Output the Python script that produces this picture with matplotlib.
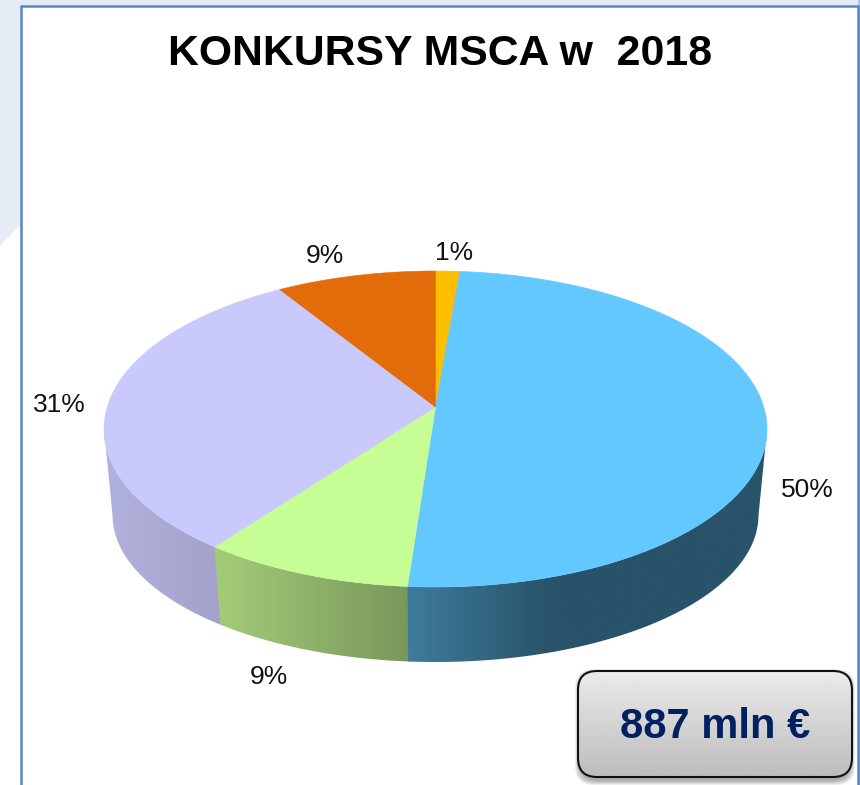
"""
Perspective 3D pie of the 2018 MSCA calls, drawn by hand on a pixel-sized axes
because matplotlib's own pie has no depth.
"""

import matplotlib

matplotlib.use("Agg")
import matplotlib.pyplot as plt  # noqa: E402
import numpy as np  # noqa: E402
from matplotlib.colors import to_rgb  # noqa: E402
from matplotlib.patches import FancyBboxPatch, Polygon, Rectangle  # noqa: E402

TITLE = "KONKURSY MSCA w  2018"
TOTAL_LABEL = "887 mln €"
# clockwise from 12 o'clock
shares = [1.35, 49.82, 9.03, 30.9, 8.9]
share_labels = ["1%", "50%", "9%", "31%", "9%"]
top_colors = ["#fdbf00", "#62c8fe", "#c6fd95", "#c9c9fb", "#e26b0a"]

plt.rcParams["font.family"] = ["Liberation Sans", "DejaVu Sans"]

W, H = 860, 785

# top face ellipse, bottom rim ellipse and how far the hub sits above centre
TOP = (435.5, 429.0, 331.5, 158.0)
BOTTOM = (435.5, 515.0, 323.0, 147.0)
HUB = 22.0 / 158.0

# side shading: x position -> colour, only the slices that show a wall
side_shading = {
    1: ([405, 550, 767], ["#3f7c9c", "#28536a", "#28536a"]),
    2: ([212, 414], ["#a4cd79", "#78965a"]),
    3: ([104, 224], ["#b2b2de", "#a1a1c9"]),
}
label_xy = [(454, 253), (807, 490), (269, 677), (59, 405), (325, 256)]


def disk_coords(theta):
    """Circle angle (clockwise from top) to unit-disk coords seen in perspective."""
    x, y = np.sin(theta), np.cos(theta)
    den = 1 + HUB * y
    return x * np.sqrt(1 - HUB**2) / den, (y + HUB) / den


def on_ellipse(u, v, ellipse):
    cx, cy, rx, ry = ellipse
    return np.column_stack([cx + rx * u, cy - ry * v])


def gradient_fill(ax, path_xy, stops, colors, zorder):
    patch = Polygon(path_xy, closed=True, facecolor="none", edgecolor="none")
    ax.add_patch(patch)
    xs = np.linspace(stops[0], stops[-1], 400)
    rgb = np.array([to_rgb(c) for c in colors])
    img = np.stack([np.interp(xs, stops, rgb[:, i]) for i in range(3)], axis=-1)
    im = ax.imshow(
        img[np.newaxis, :, :],
        extent=(stops[0], stops[-1], path_xy[:, 1].max() + 2, path_xy[:, 1].min() - 2),
        aspect="auto",
        zorder=zorder,
    )
    im.set_clip_path(patch)


fig = plt.figure(figsize=(W / 100, H / 100), dpi=100, facecolor="white")
ax = fig.add_axes([0, 0, 1, 1])
ax.set_axis_off()

# slide background behind the framed panel
ax.add_patch(Rectangle((0, 0), W, 6, facecolor="#e6ecf5", edgecolor="none"))
ax.add_patch(Polygon([(0, 0), (20, 0), (20, 225), (0, 246)], facecolor="#e6ecf5", edgecolor="none"))
ax.add_patch(Rectangle((858, 0), 2, H, facecolor="#a9c4e8", edgecolor="none"))
ax.plot([20.5, 20.5], [H, 6], color="#5585c5", lw=1.8, solid_capstyle="butt")
ax.plot([20, 857.5, 857.5], [6, 6, H], color="#5585c5", lw=1.8, solid_capstyle="butt")

edges = np.concatenate([[0], np.cumsum(shares)]) / np.sum(shares) * 2 * np.pi

# walls first so the top face sits over them; each wall runs a little under
# the previous one so no white seam shows between them
overlap = np.radians(0.4)
for i, (stops, colors) in side_shading.items():
    theta = np.linspace(edges[i] - overlap, edges[i + 1], 500)
    u, v = disk_coords(theta)
    keep = v <= 0
    upper = on_ellipse(u[keep], v[keep], TOP)
    lower = on_ellipse(u[keep], v[keep], BOTTOM)
    gradient_fill(ax, np.vstack([upper, lower[::-1]]), stops, colors, zorder=2 + 0.1 * (3 - i))

hub_xy = on_ellipse(np.array([0.0]), np.array([HUB]), TOP)
for i, color in enumerate(top_colors):
    theta = np.linspace(edges[i], edges[i + 1], 300)
    u, v = disk_coords(theta)
    rim = on_ellipse(u, v, TOP)
    ax.add_patch(
        Polygon(np.vstack([hub_xy, rim]), closed=True, facecolor=color, edgecolor=color, lw=0.4, zorder=3)
    )

for label, (lx, ly) in zip(share_labels, label_xy):
    ax.text(lx, ly, label, fontsize=19, color="#111111", ha="center", va="center", zorder=5)

ax.text(440, 54, TITLE, fontsize=30.8, fontweight="bold", color="black", ha="center", va="center", zorder=5)

# total box: soft shadow, grey gradient, dark outline
box = (578, 671, 274, 106)
style = "round,pad=0,rounding_size=19"
for grow in [5, 4, 3, 2, 1]:
    ax.add_patch(
        FancyBboxPatch(
            (box[0] - grow + 2, box[1] + 3 - grow),
            box[2] + 2 * grow - 4,
            box[3] + 2 * grow,
            boxstyle=style,
            facecolor="black",
            edgecolor="none",
            alpha=0.07,
            zorder=6,
        )
    )
panel = FancyBboxPatch(box[:2], box[2], box[3], boxstyle=style, facecolor="none", edgecolor="#111111", lw=1.5, zorder=8)
ax.add_patch(panel)
shade = np.linspace(0.92, 0.74, 100)[:, np.newaxis]
im = ax.imshow(
    shade,
    cmap="gray",
    vmin=0,
    vmax=1,
    extent=(box[0], box[0] + box[2], box[1] + box[3], box[1]),
    aspect="auto",
    zorder=7,
)
im.set_clip_path(panel)
ax.text(715, 727, TOTAL_LABEL, fontsize=30, fontweight="bold", color="#002060", ha="center", va="center", zorder=9)

ax.set_xlim(0, W)
ax.set_ylim(H, 0)

fig.savefig("out.png", dpi=100)
plt.close(fig)
